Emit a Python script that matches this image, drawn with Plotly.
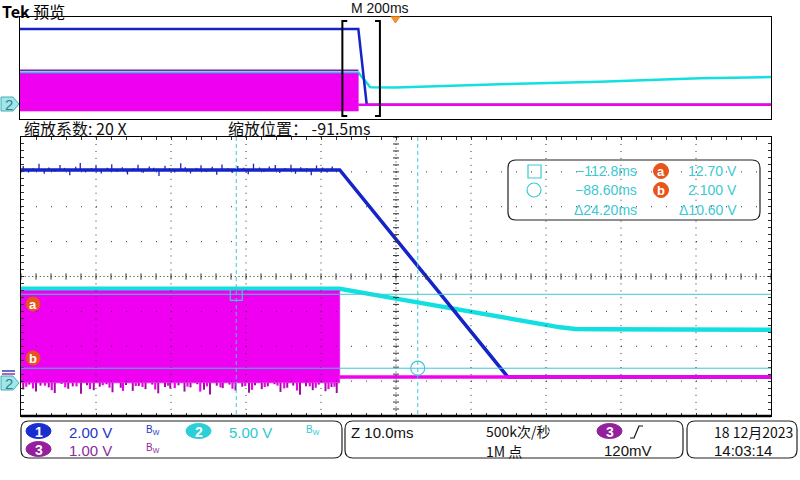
import numpy as np
import plotly.graph_objects as go

W, H = 800, 480

# ---------------- scope settings ----------------
ZOOM_CENTER_MS = -91.5      # 缩放位置
ZOOM_DIV_MS = 10.0          # Z 10.0ms/div
RECORD_DIV_MS = 200.0       # M 200ms/div
VDIV = {1: 2.00, 2: 5.00, 3: 1.00}          # V/div
GND_DIV = {1: -2.88, 2: -3.05, 3: -2.88}    # ground marker position (div)

# cursors
CUR_A_MS, CUR_B_MS = -112.8, -88.60
CUR_A_V, CUR_B_V = 12.70, 2.100

# ---------------- channel 1 (blue) ----------------
CH1_T = [-1000.0, -99.0, -76.6, 1000.0]
CH1_V = [11.87, 11.87, 0.0, 0.0]
CH1_SPIKE_T = [-141.2, -140.5, -139.9, -139.1, -138.4, -137.8, -137.0, -136.3, -135.7, -135.0,
               -134.2, -133.6, -132.9, -132.1, -131.5, -130.8, -130.0, -129.4, -128.7, -128.0,
               -127.3, -126.5, -125.9, -125.2, -124.4, -123.8, -123.1, -122.3, -121.7, -121.0,
               -120.2, -119.6, -118.9, -118.1, -117.5, -116.8, -116.0, -115.4, -114.7, -113.9,
               -113.3, -112.6, -111.8, -111.2, -110.5, -109.7, -109.1, -108.4, -107.6, -107.0,
               -106.3, -105.5, -104.9, -104.2, -103.4, -102.8, -102.1, -101.3, -100.7, -100.0]
CH1_SPIKE_DV = [0.22, -0.15, 0.10, 0.35, -0.22, 0.14, -0.10, 0.28, 0.12, -0.30,
                0.18, 0.40, -0.14, 0.10, 0.25, -0.20, 0.12, 0.33, -0.12, 0.16,
                -0.26, 0.10, 0.30, -0.16, 0.20, 0.12, -0.34, 0.24, 0.10, -0.14,
                0.38, 0.15, -0.20, 0.12, 0.27, -0.11, 0.18, -0.28, 0.32, 0.10,
                -0.16, 0.22, 0.12, -0.24, 0.36, 0.14, -0.12, 0.20, 0.28, -0.18,
                0.11, 0.30, -0.22, 0.16, 0.10, -0.30, 0.26, 0.14, -0.15, 0.20]

# ---------------- channel 2 (cyan) ----------------
CH2_T = [-1000.0, -99.0, -93.6, -88.3, -83.0, -77.6, -72.3, -69.6, -67.6, -64.3,
         -41.5, 0.0, 277.0, 544.0, 811.0, 1000.0]
CH2_V = [13.48, 13.48, 12.47, 11.47, 10.47, 9.46, 8.46, 7.96, 7.74, 7.67,
         7.60, 7.60, 8.85, 9.90, 11.25, 11.70]

# ---------------- channel 3 (magenta, switching signal) ----------------
CH3_STOP_MS = -99.0
CH3_HIGH_V = 2.47
CH3_LOW_V = -0.17
CH3_LOW_FAR_V = -0.50          # envelope seen in the preview
CH3_NOISE_TOP_V = 2.70
CH3_SPIKE_T = [-141.2, -140.4, -139.5, -138.9, -137.8, -137.0, -136.1, -135.2, -134.6, -133.5,
               -132.7, -131.8, -131.0, -130.1, -129.3, -128.2, -127.5, -126.6, -125.8, -124.9,
               -124.0, -123.2, -122.3, -121.6, -120.5, -119.7, -118.9, -118.0, -117.1, -116.3,
               -115.4, -114.6, -113.7, -112.9, -112.0, -111.1, -110.3, -109.4, -108.6, -107.7,
               -106.9, -106.0, -105.2, -104.3, -103.5, -102.6, -101.8, -100.9, -100.1, -99.4]
CH3_SPIKE_V = [-0.36, -0.22, -0.42, -0.25, -0.30, -0.46, -0.20, -0.34, -0.27, -0.48,
               -0.24, -0.38, -0.28, -0.21, -0.44, -0.31, -0.23, -0.40, -0.26, -0.35,
               -0.22, -0.47, -0.29, -0.33, -0.24, -0.42, -0.30, -0.21, -0.37, -0.50,
               -0.25, -0.32, -0.22, -0.39, -0.28, -0.45, -0.24, -0.35, -0.27, -0.21,
               -0.43, -0.31, -0.25, -0.51, -0.27, -0.38, -0.22, -0.41, -0.29, -0.46]
CH3_SPIKE2_T = [-140.8, -139.9, -138.3, -137.4, -135.6, -134.1, -132.3, -130.6, -129.7, -127.9,
                -126.2, -125.3, -123.6, -121.9, -121.0, -119.3, -117.6, -116.7, -114.9, -113.3,
                -111.6, -110.7, -109.0, -107.3, -106.4, -104.7, -103.0, -102.2, -100.5, -99.7]
CH3_SPIKE2_V = [-0.28, -0.33, -0.25, -0.38, -0.30, -0.27, -0.35, -0.24, -0.31, -0.40,
                -0.26, -0.29, -0.36, -0.25, -0.32, -0.28, -0.42, -0.27, -0.30, -0.34,
                -0.26, -0.37, -0.29, -0.25, -0.33, -0.39, -0.27, -0.31, -0.35, -0.28]
CH3_AFTER_T = [-99.0, 1000.0]
CH3_AFTER_V = [0.0, 0.0]

BLUE = "#1424c8"
CYAN = "#12e0e0"
MAG = "#f000f0"
MAG_DARK = "#a010a0"
CUR = "#3cc8d4"
ORANGE = "#e8551c"

CJK = "Noto Sans CJK SC"
SANS = "Liberation Sans"


def dv(v, ch):
    return np.asarray(v, dtype=float) / VDIV[ch] + GND_DIV[ch]


def px(x):
    return x / W


def py(y):
    return 1 - y / H


def spikes(ts, base, tips, ch):
    xs, ys = [], []
    b = float(dv([base], ch)[0])
    for t, tip in zip(ts, tips):
        xs += [t, t, None]
        ys += [b, float(dv([tip], ch)[0]), None]
    return xs, ys


fig = go.Figure()

fill_t = [-1000.0, CH3_STOP_MS, CH3_STOP_MS, -1000.0]
fill_v_main = [CH3_HIGH_V, CH3_HIGH_V, CH3_LOW_V, CH3_LOW_V]
fill_v_prev = [CH3_HIGH_V, CH3_HIGH_V, CH3_LOW_FAR_V, CH3_LOW_FAR_V]

for xa, ya, main in (("x", "y", True), ("x2", "y2", False)):
    fig.add_trace(go.Scatter(x=CH2_T, y=dv(CH2_V, 2), mode="lines",
                             line=dict(color=CYAN, width=4.5 if main else 2.5),
                             xaxis=xa, yaxis=ya, hoverinfo="skip"))
    fig.add_trace(go.Scatter(x=CH1_T, y=dv(CH1_V, 1), mode="lines",
                             line=dict(color=BLUE, width=3.5 if main else 2.5),
                             xaxis=xa, yaxis=ya, hoverinfo="skip"))
    if main:
        sx, sy = spikes(CH1_SPIKE_T, CH1_V[0], [CH1_V[0] + d for d in CH1_SPIKE_DV], 1)
        fig.add_trace(go.Scatter(x=sx, y=sy, mode="lines", line=dict(color=BLUE, width=1.3),
                                 xaxis=xa, yaxis=ya, hoverinfo="skip", connectgaps=False))
    fig.add_trace(go.Scatter(x=fill_t, y=dv(fill_v_main if main else fill_v_prev, 3), mode="lines",
                             fill="toself", fillcolor=MAG, line=dict(color=MAG, width=0.5),
                             xaxis=xa, yaxis=ya, hoverinfo="skip"))
    if main:
        sx, sy = spikes(CH3_SPIKE2_T, CH3_LOW_V, CH3_SPIKE2_V, 3)
        fig.add_trace(go.Scatter(x=sx, y=sy, mode="lines", line=dict(color=MAG, width=2.2),
                                 xaxis=xa, yaxis=ya, hoverinfo="skip", connectgaps=False))
        sx, sy = spikes(CH3_SPIKE_T, CH3_LOW_V, CH3_SPIKE_V, 3)
        fig.add_trace(go.Scatter(x=sx, y=sy, mode="lines", line=dict(color=MAG_DARK, width=2.0),
                                 xaxis=xa, yaxis=ya, hoverinfo="skip", connectgaps=False))
    else:
        fig.add_trace(go.Scatter(x=[-1000.0, CH3_STOP_MS], y=dv([CH3_NOISE_TOP_V] * 2, 3),
                                 mode="lines", line=dict(color=MAG_DARK, width=1.5),
                                 xaxis=xa, yaxis=ya, hoverinfo="skip"))
    fig.add_trace(go.Scatter(x=CH3_AFTER_T, y=dv(CH3_AFTER_V, 3), mode="lines",
                             line=dict(color=MAG, width=3.5 if main else 2.5),
                             xaxis=xa, yaxis=ya, hoverinfo="skip"))

# cursor markers
fig.add_trace(go.Scatter(x=[CUR_A_MS], y=dv([CUR_A_V], 2), mode="markers",
                         marker=dict(symbol="square-open", size=12, color=CUR, line=dict(width=1.2)),
                         xaxis="x", yaxis="y", hoverinfo="skip"))
fig.add_trace(go.Scatter(x=[CUR_B_MS], y=dv([CUR_B_V], 2), mode="markers",
                         marker=dict(symbol="circle-open", size=14, color=CUR, line=dict(width=1.2)),
                         xaxis="x", yaxis="y", hoverinfo="skip"))

x0m = ZOOM_CENTER_MS - 5 * ZOOM_DIV_MS
x1m = ZOOM_CENTER_MS + 5 * ZOOM_DIV_MS

shapes = []
# ---- graticule (dotted division lines) ----
for k in range(1, 10):
    if k == 5:
        continue
    xv = x0m + k * ZOOM_DIV_MS
    shapes.append(dict(type="line", xref="x", yref="y", x0=xv, x1=xv, y0=4, y1=-4,
                       line=dict(color="#333", width=1, dash="1px,5.97px"), layer="above"))
for k in range(-3, 4):
    if k == 0:
        continue
    shapes.append(dict(type="line", xref="x", yref="y", x0=x0m, x1=x1m, y0=k, y1=k,
                       line=dict(color="#333", width=1, dash="1px,14px"), layer="above"))
# centre lines with cross ticks
shapes.append(dict(type="line", xref="x", yref="y", x0=ZOOM_CENTER_MS, x1=ZOOM_CENTER_MS, y0=4, y1=-4,
                   line=dict(color="#333", width=1, dash="1px,2.5px"), layer="above"))
shapes.append(dict(type="line", xref="x", yref="y", x0=x0m, x1=x1m, y0=0, y1=0,
                   line=dict(color="#333", width=1, dash="1px,2.75px"), layer="above"))
for j in range(-20, 21):
    yy = j * 0.2
    shapes.append(dict(type="line", xref="x", yref="y", x0=ZOOM_CENTER_MS - 0.4, x1=ZOOM_CENTER_MS + 0.4,
                       y0=yy, y1=yy, line=dict(color="#333", width=1), layer="above"))
for j in range(0, 51):
    xx = x0m + j * ZOOM_DIV_MS / 5
    shapes.append(dict(type="line", xref="x", yref="y", x0=xx, x1=xx, y0=-0.09, y1=0.09,
                       line=dict(color="#333", width=1), layer="above"))

# ---- cursors ----
for t in (CUR_A_MS, CUR_B_MS):
    shapes.append(dict(type="line", xref="x", yref="y", x0=t, x1=t, y0=4, y1=-4,
                       line=dict(color=CUR, width=1, dash="4px,3px"), layer="above"))
for v in (CUR_A_V, CUR_B_V):
    yv = float(dv([v], 2)[0])
    shapes.append(dict(type="line", xref="x", yref="y", x0=x0m, x1=x1m, y0=yv, y1=yv,
                       line=dict(color=CUR, width=1), layer="above"))

# bottom thick border of main graticule
shapes.append(dict(type="line", xref="paper", yref="paper", x0=px(21), x1=px(771), y0=py(416), y1=py(416),
                   line=dict(color="#000", width=2.5), layer="above"))

# ---- zoom brackets in preview ----
arm = 13.0
for xv, d in ((x0m, 1), (x1m, -1)):
    shapes.append(dict(type="path", xref="x2", yref="paper",
                       path=f"M {xv + d * arm},{py(21)} L {xv},{py(21)} L {xv},{py(116)} L {xv + d * arm},{py(116)}",
                       line=dict(color="#000", width=2), layer="above"))
# trigger marker (t = 0)
shapes.append(dict(type="path", xref="x2", yref="paper",
                   path=f"M -12,{py(16.5)} L 12,{py(16.5)} L 0,{py(23)} Z",
                   fillcolor="#f5962e", line=dict(color="#e07a10", width=0.8), layer="above"))


def rrect(x0, y0, x1, y1, r):
    return (f"M {px(x0 + r)},{py(y0)} L {px(x1 - r)},{py(y0)} Q {px(x1)},{py(y0)} {px(x1)},{py(y0 + r)} "
            f"L {px(x1)},{py(y1 - r)} Q {px(x1)},{py(y1)} {px(x1 - r)},{py(y1)} "
            f"L {px(x0 + r)},{py(y1)} Q {px(x0)},{py(y1)} {px(x0)},{py(y1 - r)} "
            f"L {px(x0)},{py(y0 + r)} Q {px(x0)},{py(y0)} {px(x0 + r)},{py(y0)} Z")


for (a, b, c, d) in ((508, 160, 760, 220), (21, 421, 342, 458), (345, 421, 683, 458), (687, 421, 797, 458)):
    shapes.append(dict(type="path", xref="paper", yref="paper", path=rrect(a, b, c, d, 8),
                       line=dict(color="#222", width=1.2), layer="above"))

annotations = []


def text(x, y, s, size=14, color="#111", anchor="left", family=SANS, bold=False):
    annotations.append(dict(xref="paper", yref="paper", x=px(x), y=py(y), text=f"<b>{s}</b>" if bold else s,
                            showarrow=False, xanchor=anchor, yanchor="middle",
                            font=dict(size=size, color=color, family=family)))


def badge(cx, cy, rx, ry, fill, label, tcolor="#fff", size=13):
    shapes.append(dict(type="circle", xref="paper", yref="paper", x0=px(cx - rx), x1=px(cx + rx),
                       y0=py(cy - ry), y1=py(cy + ry), fillcolor=fill, line=dict(color=fill, width=1),
                       layer="above"))
    text(cx, cy + 0.5, label, size=size, color=tcolor, anchor="center", bold=True)


def tag(cy):
    shapes.append(dict(type="path", xref="paper", yref="paper",
                       path=f"M {px(1)},{py(cy - 7)} L {px(13)},{py(cy - 7)} L {px(19)},{py(cy)} "
                            f"L {px(13)},{py(cy + 7)} L {px(1)},{py(cy + 7)} Z",
                       fillcolor="#9ce8ea", line=dict(color="#4aaab4", width=1), layer="above"))
    text(9, cy + 0.5, "2", size=15, color="#3d7c86", anchor="center")


tag(104)
tag(383)
shapes.append(dict(type="line", xref="paper", yref="paper", x0=px(2), x1=px(15), y0=py(371), y1=py(371),
                   line=dict(color="#3040b0", width=1.5), layer="above"))
shapes.append(dict(type="line", xref="paper", yref="paper", x0=px(2), x1=px(15), y0=py(374), y1=py(374),
                   line=dict(color="#9a30a8", width=1.5), layer="above"))

# header texts
text(0, 11.5, "<b>Tek</b> 预览", size=16, color="#000", family=CJK)
text(349, 8, "M 200ms", size=14, color="#111")
text(22, 128, "缩放系数: 20 X", size=16, color="#111", family=CJK)
text(226, 128, "缩放位置： -91.5ms", size=16, color="#111", family=CJK)

# a / b markers on the graticule
badge(33, 304, 7, 7, ORANGE, "a", size=13)
badge(33, 358, 7, 7, ORANGE, "b", size=13)

# cursor readout box
shapes.append(dict(type="rect", xref="paper", yref="paper", x0=px(528), x1=px(541), y0=py(165), y1=py(178),
                   line=dict(color=CUR, width=1.2), layer="above"))
shapes.append(dict(type="circle", xref="paper", yref="paper", x0=px(527), x1=px(541), y0=py(183), y1=py(197),
                   line=dict(color=CUR, width=1.2), layer="above"))
text(639, 171, f"\u2212{abs(CUR_A_MS):.1f}ms", size=14, color=CUR, anchor="right")
text(639, 190, f"\u2212{abs(CUR_B_MS):.2f}ms", size=14, color=CUR, anchor="right")
text(639, 210, f"\u0394{CUR_B_MS - CUR_A_MS:.2f}ms", size=14, color=CUR, anchor="right")
badge(661, 171, 7.5, 7.5, ORANGE, "a", size=13)
badge(661, 190, 7.5, 7.5, ORANGE, "b", size=13)
text(739, 171, f"{CUR_A_V:.2f} V", size=14, color=CUR, anchor="right")
text(739, 190, f"{CUR_B_V:.3f} V", size=14, color=CUR, anchor="right")
text(739, 210, f"\u0394{CUR_A_V - CUR_B_V:.2f} V", size=14, color=CUR, anchor="right")

# bottom status bar
badge(38.5, 431, 12.5, 7.5, "#1a2ed0", "1", size=14)
badge(198.5, 431, 12.5, 7.5, "#2ccfd8", "2", size=14)
badge(38.5, 449, 12.5, 7.5, "#94209e", "3", size=14)
text(67, 432, f"{VDIV[1]:.2f} V", size=15, color="#2636c8")
text(227, 432, f"{VDIV[2]:.2f} V", size=15, color="#2cc8d2")
text(67, 450, f"{VDIV[3]:.2f} V", size=15, color="#8e2a9a")
text(144, 430, "B<sub>W</sub>", size=10, color="#2636c8")
text(304, 430, "B<sub>W</sub>", size=10, color="#2cc8d2")
text(144, 448, "B<sub>W</sub>", size=10, color="#8e2a9a")

text(349, 432, f"Z {ZOOM_DIV_MS:.1f}ms", size=15, color="#111")
text(484, 431, "500k次/秒", size=14, color="#111", family=CJK)
text(484, 451, "1M 点", size=14, color="#111", family=CJK)
badge(609.5, 431, 12.5, 7.5, "#94209e", "3", size=14)
shapes.append(dict(type="path", xref="paper", yref="paper",
                   path=f"M {px(630)},{py(438)} L {px(634)},{py(438)} L {px(639)},{py(426)} L {px(643)},{py(426)}",
                   line=dict(color="#111", width=1.2), layer="above"))
text(602, 450, "120mV", size=15, color="#111")
text(712, 432, "18 12月2023", size=14, color="#111", family=CJK)
text(712, 450, "14:03:14", size=15, color="#111")

fig.update_layout(
    width=W, height=H, margin=dict(l=0, r=0, t=0, b=0),
    paper_bgcolor="white", plot_bgcolor="white", showlegend=False,
    shapes=shapes, annotations=annotations,
    xaxis=dict(domain=[px(21), px(771)], range=[x0m, x1m], showgrid=False, zeroline=False,
               showline=True, linecolor="#000", linewidth=1, mirror="allticks",
               ticks="inside", tick0=x0m, dtick=ZOOM_DIV_MS / 5, ticklen=3, tickcolor="#333",
               showticklabels=False, layer="above traces", fixedrange=True),
    yaxis=dict(domain=[py(416), py(137)], range=[-4, 4], showgrid=False, zeroline=False,
               showline=True, linecolor="#000", linewidth=1, mirror="allticks",
               ticks="inside", tick0=-4, dtick=0.2, ticklen=3, tickcolor="#333",
               showticklabels=False, layer="above traces", fixedrange=True),
    xaxis2=dict(domain=[px(20), px(771)], range=[-5 * RECORD_DIV_MS, 5 * RECORD_DIV_MS], anchor="y2",
                showgrid=False, zeroline=False, showline=True, linecolor="#000", linewidth=1,
                mirror=True, ticks="", showticklabels=False, fixedrange=True),
    yaxis2=dict(domain=[py(119), py(17)], range=[-4, 4], anchor="x2",
                showgrid=False, zeroline=False, showline=True, linecolor="#000", linewidth=1,
                mirror=True, ticks="", showticklabels=False, fixedrange=True),
)

fig.write_html("out.html", config={"displayModeBar": False},
               post_script="document.body.style.margin='0';document.body.style.padding='0';")
